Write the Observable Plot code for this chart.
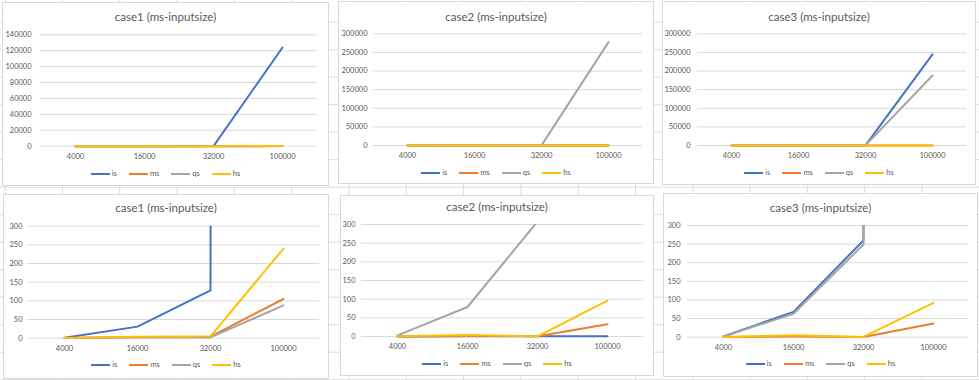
<!DOCTYPE html>
<html><head><meta charset="utf-8">
<script src="https://cdn.jsdelivr.net/npm/d3@7"></script>
<script src="https://cdn.jsdelivr.net/npm/@observablehq/plot@0.6"></script>
<style>
html,body{margin:0;padding:0;}
body{width:979px;height:380px;overflow:hidden;position:relative;background-color:#fff;
background-image:linear-gradient(to right,#dcdcdc 1px,transparent 1px),linear-gradient(to bottom,#dcdcdc 1px,transparent 1px);
background-size:57.3px 27.5px;background-position:62px 21.7px;
font-family:Lato,"Open Sans",sans-serif;}
.chart{position:absolute;box-sizing:border-box;border:1px solid #d9d9d9;background:#fff;}
.title{position:absolute;left:0;right:0;text-align:center;font-size:11.5px;color:#595959;line-height:1;white-space:nowrap;}
.legend{position:absolute;left:0;right:0;display:flex;justify-content:center;align-items:center;font-size:7.5px;color:#595959;line-height:1;}
.legend .item{display:flex;align-items:center;margin:0 6px;}
.legend .sw{width:19px;height:2px;margin-right:2px;}
.chart svg{position:absolute;left:0;top:0;}
</style>
</head><body>
<script>
// categories and series
const sizes = ["4000", "16000", "32000", "100000"];
const seriesNames = ["is", "ms", "qs", "hs"];
const seriesColors = ["#4472C4", "#ED7D31", "#A5A5A5", "#FFC000"];

// case1 values (ms)
const case1Is = [1, 31, 128, 124000];
const case1Ms = [0.5, 3, 4, 105];
const case1Qs = [0.5, 2, 2, 88];
const case1Hs = [0.5, 4, 5, 240];
// case2 values (ms)
const case2Is = [0.2, 0.4, 0.5, 0.8];
const case2Ms = [0.3, 1.5, 0.8, 33];
const case2Qs = [3, 79, 308, 277600];
const case2Hs = [0.4, 4, 0.6, 96];
// case3 values (ms)
const case3Is = [2, 68, 260, 244500];
const case3Ms = [0.3, 2, 0.5, 37];
const case3Qs = [2, 63, 249, 188000];
const case3Hs = [0.5, 5, 0.7, 92];

// tick labels
const ticksCase1Full = [0, 20000, 40000, 60000, 80000, 100000, 120000, 140000];
const ticksFull = [0, 50000, 100000, 150000, 200000, 250000, 300000];
const ticksZoom = [0, 50, 100, 150, 200, 250, 300];
const titles = ["case1 (ms-inputsize)", "case2 (ms-inputsize)", "case3 (ms-inputsize)"];

function makeChart(cfg) {
  const box = document.createElement("div");
  box.className = "chart";
  Object.assign(box.style, {left: cfg.left + "px", top: cfg.top + "px", width: cfg.width + "px", height: cfg.height + "px"});
  const inner = cfg.width - 2;
  const rows = [];
  seriesNames.forEach((s, i) => sizes.forEach((c, j) => rows.push({series: s, size: c, value: cfg.values[i][j]})));
  const svgH = cfg.zeroY + 20;
  const svg = Plot.plot({
    width: inner, height: svgH,
    marginLeft: cfg.mL, marginRight: cfg.mR, marginTop: cfg.mT, marginBottom: svgH - cfg.zeroY,
    style: {fontFamily: "Lato, 'Open Sans', sans-serif", fontSize: "7.5px", color: "#595959", background: "transparent", overflow: "visible"},
    x: {type: "point", domain: sizes, padding: 0.5, axis: null},
    y: {domain: [0, d3.max(cfg.yTicks)], axis: null},
    color: {domain: seriesNames, range: seriesColors},
    marks: [
      Plot.ruleY(cfg.yTicks, {stroke: "#d9d9d9", strokeWidth: 1}),
      Plot.axisY({ticks: cfg.yTicks, tickSize: 0, tickPadding: cfg.yPad, tickFormat: d => String(d), label: null}),
      Plot.axisX({tickSize: 0, tickPadding: 7, label: null}),
      Plot.line(rows, {x: "size", y: "value", z: "series", stroke: "series", strokeWidth: 2, clip: true, strokeLinecap: "round", strokeLinejoin: "round"})
    ]
  });
  // let the clip only cut the top of the frame, so lines lying on 0 keep their full width
  svg.querySelectorAll("clipPath rect").forEach(r => {
    const h = parseFloat(r.getAttribute("height"));
    if (!isNaN(h)) r.setAttribute("height", h + 4);
  });
  box.appendChild(svg);
  const t = document.createElement("div");
  t.className = "title";
  t.style.top = (cfg.titleY - 6) + "px";
  t.textContent = cfg.title;
  box.appendChild(t);
  const lg = document.createElement("div");
  lg.className = "legend";
  lg.style.top = (cfg.legendY - 4) + "px";
  seriesNames.forEach((s, i) => {
    const it = document.createElement("div");
    it.className = "item";
    const sw = document.createElement("div");
    sw.className = "sw";
    sw.style.background = seriesColors[i];
    const lb = document.createElement("span");
    lb.textContent = s;
    it.appendChild(sw); it.appendChild(lb);
    lg.appendChild(it);
  });
  box.appendChild(lg);
  document.body.appendChild(box);
}

const case1 = [case1Is, case1Ms, case1Qs, case1Hs];
const case2 = [case2Is, case2Ms, case2Qs, case2Hs];
const case3 = [case3Is, case3Ms, case3Qs, case3Hs];

makeChart({left: 2, top: 2, width: 327, height: 184, mL: 36, mR: 11, mT: 31.3, zeroY: 142.7, yPad: 8, titleY: 14, legendY: 171, title: titles[0], values: case1, yTicks: ticksCase1Full});
makeChart({left: 338, top: 1, width: 316, height: 183, mL: 34, mR: 11, mT: 31.3, zeroY: 143, yPad: 6, titleY: 15, legendY: 171, title: titles[1], values: case2, yTicks: ticksFull});
makeChart({left: 662, top: 1, width: 314, height: 184, mL: 34, mR: 9, mT: 31.3, zeroY: 143, yPad: 7, titleY: 15, legendY: 171, title: titles[2], values: case3, yTicks: ticksFull});
makeChart({left: 3, top: 194, width: 326, height: 185, mL: 23, mR: 9, mT: 30.7, zeroY: 142.7, yPad: 5, titleY: 13, legendY: 170, title: titles[0], values: case1, yTicks: ticksZoom});
makeChart({left: 340, top: 195, width: 314, height: 181, mL: 20, mR: 10, mT: 28, zeroY: 140, yPad: 6, titleY: 11, legendY: 168, title: titles[1], values: case2, yTicks: ticksZoom});
makeChart({left: 663, top: 193, width: 315, height: 184, mL: 23, mR: 9, mT: 31, zeroY: 142.7, yPad: 7, titleY: 14, legendY: 170, title: titles[2], values: case3, yTicks: ticksZoom});
</script>
</body></html>
